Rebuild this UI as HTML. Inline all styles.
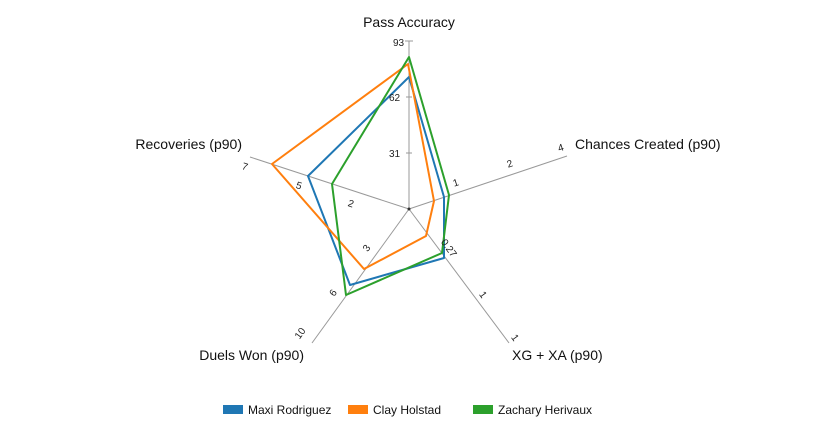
<!DOCTYPE html>
<html><head><meta charset="utf-8"><style>
body{margin:0;background:#fff;}
svg{display:block;font-family:"Liberation Sans",sans-serif;}
</style></head><body>
<svg width="815" height="430" viewBox="0 0 815 430">
<g stroke="#999" stroke-width="1" fill="none">
<line x1="409" y1="209" x2="409" y2="41"/>
<line x1="409" y1="209" x2="567" y2="156"/>
<line x1="409" y1="209" x2="509" y2="343"/>
<line x1="409" y1="209" x2="312" y2="343"/>
<line x1="409" y1="209" x2="250" y2="157"/>
<line x1="405" y1="41" x2="413" y2="41"/>
<line x1="406" y1="97" x2="412" y2="97"/>
<line x1="406" y1="153" x2="412" y2="153"/>
</g>
<circle cx="409" cy="209" r="1.5" fill="#333"/>
<g fill="none" stroke-width="2" stroke-linejoin="round">
<polygon stroke="#1f77b4" points="409,77 444,197 444,258 350,285 308,176"/>
<polygon stroke="#ff7f0e" points="408,64 434,201 426,236 364,269 272,164"/>
<polygon stroke="#2ca02c" points="409,57 449,195 442,253 346,295 332,184"/>
</g>
<g font-size="10" fill="#222">
<text x="393" y="46">93</text>
<text x="389" y="101">62</text>
<text x="389" y="157">31</text>
<text x="453" y="186" transform="rotate(-18 456 183)">1</text>
<text x="507" y="167" transform="rotate(-18 510 164)">2</text>
<text x="558" y="151" transform="rotate(-18 561 148)">4</text>
<text x="440" y="249" transform="rotate(54 447 246)">0.27</text>
<text x="480" y="298" transform="rotate(54 483 295)">1</text>
<text x="512" y="341" transform="rotate(54 515 338)">1</text>
<text x="364" y="251" transform="rotate(-54 367 248)">3</text>
<text x="330" y="295" transform="rotate(-54 334 292)">6</text>
<text x="295" y="337" transform="rotate(-54 300 334)">10</text>
<text x="348" y="207" transform="rotate(18 351 204)">2</text>
<text x="296" y="189" transform="rotate(18 299 186)">5</text>
<text x="242" y="170" transform="rotate(18 245 167)">7</text>
</g>
<g font-size="14" fill="#111">
<text x="409" y="27" text-anchor="middle">Pass Accuracy</text>
<text x="575" y="149">Chances Created (p90)</text>
<text x="512" y="360">XG + XA (p90)</text>
<text x="304" y="360" text-anchor="end">Duels Won (p90)</text>
<text x="242" y="149" text-anchor="end">Recoveries (p90)</text>
</g>
<rect x="223" y="405" width="20" height="9" fill="#1f77b4"/>
<rect x="348" y="405" width="20" height="9" fill="#ff7f0e"/>
<rect x="473" y="405" width="20" height="9" fill="#2ca02c"/>
<g font-size="12" fill="#111">
<text x="248" y="414">Maxi Rodriguez</text>
<text x="373" y="414">Clay Holstad</text>
<text x="498" y="414">Zachary Herivaux</text>
</g>
</svg>
</body></html>
